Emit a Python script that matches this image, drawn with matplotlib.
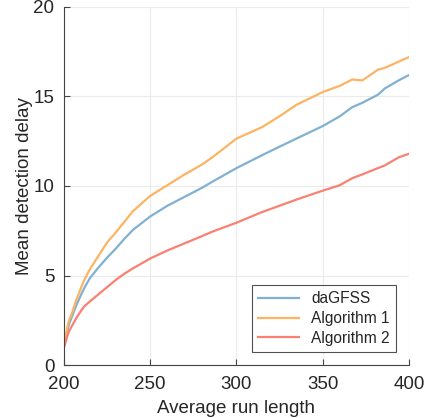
import matplotlib
matplotlib.use("Agg")
import matplotlib.pyplot as plt

plt.rcParams['font.family'] = ['Liberation Sans', 'DejaVu Sans']

arl = [200, 201, 202, 203, 205, 207, 210, 212, 215, 220, 225, 230, 235, 240, 250, 260,
       270, 280, 286, 300, 315, 325, 335, 350, 360, 367, 373, 382, 386, 394, 400]
dagfss = [1.0, 1.5, 1.95, 2.3, 2.8, 3.3, 3.95, 4.35, 4.85, 5.45, 6.0, 6.5, 7.05, 7.55,
          8.3, 8.9, 9.4, 9.9, 10.24, 11.0, 11.73, 12.2, 12.66, 13.35, 13.9, 14.4,
          14.65, 15.1, 15.45, 15.9, 16.2]
alg1 = [1.0, 1.6, 2.15, 2.5, 3.0, 3.6, 4.35, 4.8, 5.35, 6.1, 6.85, 7.4, 8.0, 8.6,
        9.45, 10.05, 10.65, 11.2, 11.6, 12.65, 13.3, 13.9, 14.55, 15.25, 15.6, 15.95,
        15.9, 16.5, 16.6, 16.95, 17.2]
alg2 = [1.0, 1.3, 1.65, 1.9, 2.25, 2.6, 3.05, 3.3, 3.55, 3.95, 4.35, 4.75, 5.1, 5.4,
        5.95, 6.4, 6.8, 7.2, 7.45, 7.95, 8.55, 8.9, 9.25, 9.74, 10.05, 10.43,
        10.65, 11.0, 11.15, 11.6, 11.8]

names = ['daGFSS', 'Algorithm 1', 'Algorithm 2']
colors = ['#80b1d3', '#fdb462', '#fb8072']

fig = plt.figure(figsize=(4.24, 4.18), dpi=100)
ax = fig.add_axes([64/424, 1 - 365/418, (409-64)/424, (365-7)/418])

for y, n, c in zip([dagfss, alg1, alg2], names, colors):
    ax.plot(arl, y, color=c, lw=1.6, label=n)

ax.set_xlim(200, 400)
ax.set_ylim(0, 20)
ax.set_xticks([200, 250, 300, 350, 400])
ax.set_yticks([0, 5, 10, 15, 20])
ax.grid(True, color='#ebebeb', lw=0.8)
ax.set_axisbelow(True)
for s in ['top', 'right']:
    ax.spines[s].set_visible(False)
for s in ['left', 'bottom']:
    ax.spines[s].set_color('#444444')
    ax.spines[s].set_linewidth(0.8)
ax.tick_params(direction='in', length=4, width=0.8, color='#444444',
               labelsize=13.5, labelcolor='#262626')
ax.tick_params(axis='x', pad=8)
ax.tick_params(axis='y', pad=7)
ax.set_xlabel('Average run length', fontsize=13.5, color='#262626', labelpad=5)
ax.set_ylabel('Mean detection delay', fontsize=13.5, color='#262626', labelpad=0)

leg = ax.legend(loc='lower right', bbox_to_anchor=((396-64)/345, (365-352)/358),
                bbox_transform=ax.transAxes, fontsize=11.2, frameon=True, fancybox=False,
                edgecolor='#262626', handlelength=2.6, borderpad=0.4, labelspacing=0.3,
                handletextpad=0.8, borderaxespad=0)
leg.get_frame().set_linewidth(0.8)
for t in leg.get_texts():
    t.set_color('#262626')

fig.savefig('out.png', dpi=100)
